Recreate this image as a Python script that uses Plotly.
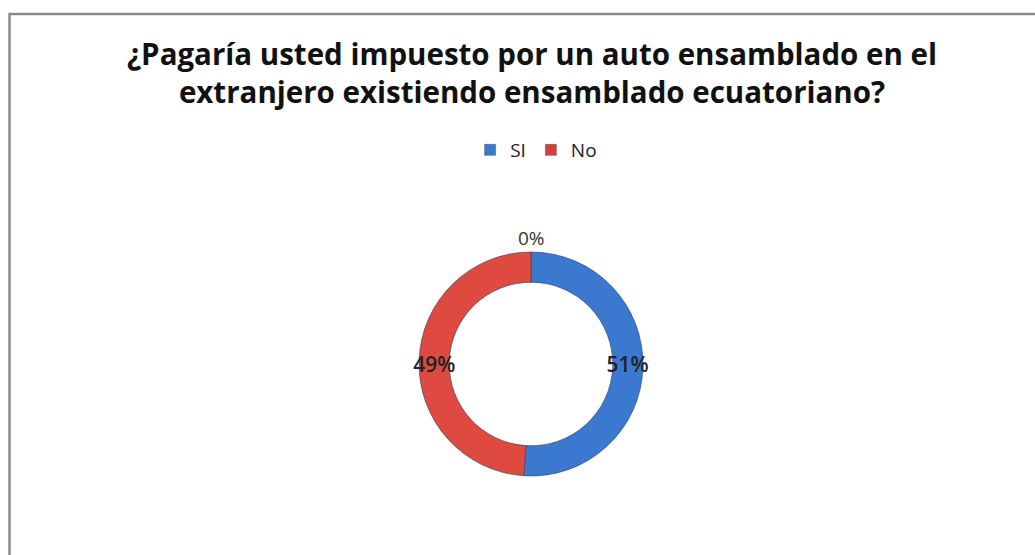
import plotly.graph_objects as go

# Survey answers (the blank category has no responses)
labels = ["", "SI", "No"]
values = [0, 51, 49]
colors = ["#9bbb59", "#3b78d0", "#de4a40"]

legend_labels = ["SI", "No"]
legend_colors = ["#3b78d0", "#d0403a"]

title_text = ("¿Pagaría usted impuesto por un auto ensamblado en el<br>"
              "extranjero existiendo ensamblado ecuatoriano?")

W, H = 1035, 555
cx, cy, r = 531, 364, 112
pie_x = [(cx - r) / W, (cx + r) / W]
pie_y = [(H - cy - r) / H, (H - cy + r) / H]

fig = go.Figure()
fig.add_trace(go.Pie(
    labels=labels,
    values=values,
    hole=0.73,
    sort=False,
    direction="clockwise",
    rotation=0,
    marker=dict(colors=colors, line=dict(color="#2a3d66", width=0.6)),
    texttemplate=["", "%{percent:.0%}", "%{percent:.0%}"],
    textposition=["none", "inside", "inside"],
    insidetextorientation="horizontal",
    textfont=dict(family="Open Sans", size=21, color="#222222", weight=600),
    showlegend=False,
    domain=dict(x=pie_x, y=pie_y),
))

# Label for the empty category, sitting just above the ring's top
total = sum(values)
fig.add_annotation(
    x=sum(pie_x) / 2, y=pie_y[1], xref="paper", yref="paper",
    xanchor="center", yanchor="bottom", yshift=-1, showarrow=False,
    text=f"{values[0] / total:.0%}",
    font=dict(family="Open Sans", size=19, color="#333333"),
)

# Legend swatches for the two answers
for name, col in zip(legend_labels, legend_colors):
    fig.add_trace(go.Scatter(
        x=[None], y=[None], mode="markers", name=name,
        marker=dict(symbol="square", size=11, color=col,
                    line=dict(color="#555555", width=0.5)),
        hoverinfo="skip",
    ))

fig.update_layout(
    width=W, height=H,
    margin=dict(l=0, r=0, t=0, b=0),
    paper_bgcolor="white",
    plot_bgcolor="white",
    xaxis=dict(visible=False),
    yaxis=dict(visible=False),
    uniformtext=dict(minsize=21, mode="show"),
    title=dict(text=title_text, x=0.514, xanchor="center",
               y=1 - 65 / H, yanchor="middle", yref="container",
               font=dict(family="Open Sans", size=29.5, color="#111111", weight="bold")),
    legend=dict(orientation="h", x=0.518, xanchor="center",
                y=1 - 150 / H, yanchor="middle",
                itemwidth=30, tracegroupgap=0,
                font=dict(family="Open Sans", size=19, color="#222222")),
    shapes=[dict(type="rect", xref="paper", yref="paper",
                 x0=9.5 / W, x1=1.05, y0=-0.05, y1=1 - 14 / H,
                 line=dict(color="#8a8a8a", width=2.5))],
)

fig.write_html("out.html")
